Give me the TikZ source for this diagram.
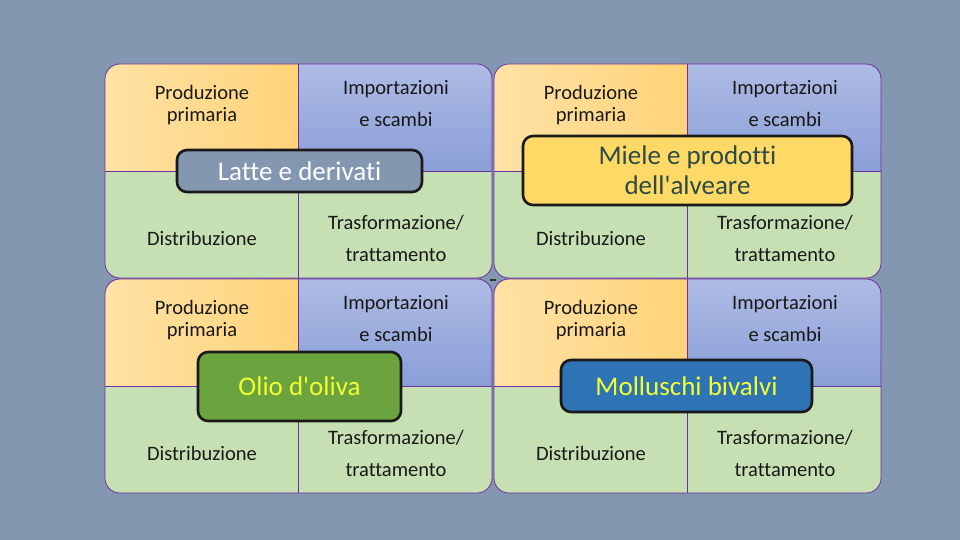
\documentclass[tikz,border=0pt]{standalone}
\usepackage{fontspec}
\setmainfont{Carlito}[Ligatures={NoCommon}]
\usetikzlibrary{positioning,calc}
\definecolor{sfondo}{HTML}{8497B0}
\definecolor{viola}{HTML}{7030A0}
\definecolor{aranchiaro}{HTML}{FFE2A6}
\definecolor{arancio}{HTML}{FFD379}
\definecolor{bluchiaro}{HTML}{AEBBE4}
\definecolor{blu}{HTML}{8A9ED7}
\definecolor{verde}{HTML}{C6E0B4}
\definecolor{miele}{HTML}{FFD966}
\definecolor{ardesia}{HTML}{2E4A45}
\definecolor{oliva}{HTML}{6BA33E}
\definecolor{mare}{HTML}{2E74B5}
\definecolor{giallo}{HTML}{F2FF33}

\tikzset{
  voce/.style={align=center,font=\fontsize{20.5}{22}\selectfont,text=black!90},
  etichetta/.style={draw=black!90,line width=2.6pt,rounded corners=10pt,
    align=center,inner sep=0pt,font=\fontsize{27}{30}\selectfont}
}

\begin{document}
\begin{tikzpicture}[x=1pt,y=-1pt]
  % sfondo
  \fill[sfondo] (0,0) rectangle (960,540);
  \useasboundingbox (0,0) rectangle (960,540);
  % quattro matrici
  \foreach \px/\py/\n in {105/64/a,494/64/b,105/279/c,494/279/d} {
    \begin{scope}[shift={(\px,\py)}]
      \begin{scope}
        \clip[rounded corners=15pt] (0,0) rectangle (387,214);
        \shade[left color=aranchiaro,right color=arancio] (0,0) rectangle (193.5,107);
        \shade[top color=bluchiaro,bottom color=blu] (193.5,0) rectangle (387,107);
        \fill[verde] (0,107) rectangle (387,214);
      \end{scope}
      \draw[viola,line width=0.8pt] (193.5,0)--(193.5,214) (0,107)--(387,107);
      \draw[viola,line width=0.8pt,rounded corners=15pt] (0,0) rectangle (387,214);
      \node[voce] (prod-\n) at (97,41) {Produzione\\primaria};
      \node[voce] (imp-\n) at (291,40) {Importazioni\\[10pt]e scambi};
      \node[voce] (dist-\n) at (97,174) {Distribuzione};
      \node[voce] (trasf-\n) at (291,174) {Trasformazione/\\[10pt]trattamento};
    \end{scope}
  }
  % trattino al centro
  \draw[black!80,line width=1.6pt] (490,280)--(496,280);
  % etichette centrali
  \node[etichetta,fill=sfondo,text=white,minimum width=245,minimum height=42]
    (latte) at (299.5,171) {Latte e derivati};
  \node[etichetta,fill=miele,text=ardesia,minimum width=329,minimum height=69]
    (mieleprod) at (687.5,170.5) {Miele e prodotti\\dell\textquotesingle alveare};
  \node[etichetta,fill=oliva,text=giallo,minimum width=203,minimum height=69]
    (olio) at (299.5,386.5) {Olio d\textquotesingle oliva};
  \node[etichetta,fill=mare,text=giallo,minimum width=251,minimum height=52]
    (molluschi) at (686.5,386) {Molluschi bivalvi};
\end{tikzpicture}
\end{document}
